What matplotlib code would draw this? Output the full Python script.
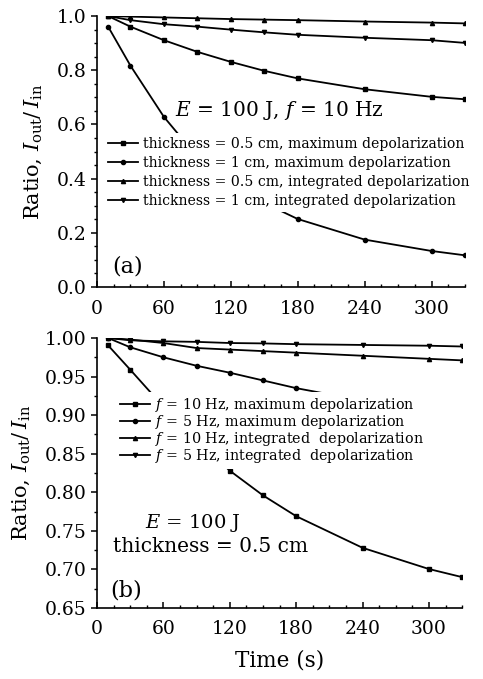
import matplotlib
matplotlib.use('Agg')
import matplotlib.pyplot as plt
from matplotlib.ticker import MultipleLocator

plt.rcParams['font.family'] = 'DejaVu Serif'
plt.rcParams['mathtext.fontset'] = 'dejavuserif'

time_s = [10, 30, 60, 90, 120, 150, 180, 240, 300, 330]

# panel (a): E = 100 J, f = 10 Hz
a_labels = ['thickness = 0.5 cm, maximum depolarization',
            'thickness = 1 cm, maximum depolarization',
            'thickness = 0.5 cm, integrated depolarization',
            'thickness = 1 cm, integrated depolarization']
a_max_05 = [1.0, 0.961, 0.911, 0.868, 0.831, 0.798, 0.770, 0.730, 0.702, 0.693]
a_max_1 = [0.961, 0.817, 0.628, 0.48, 0.38, 0.31, 0.251, 0.175, 0.133, 0.117]
a_int_05 = [1.0, 0.998, 0.995, 0.992, 0.989, 0.987, 0.985, 0.980, 0.976, 0.973]
a_int_1 = [1.0, 0.985, 0.970, 0.961, 0.950, 0.940, 0.931, 0.920, 0.911, 0.901]

# panel (b): E = 100 J, thickness = 0.5 cm
b_labels = [r'$f$ = 10 Hz, maximum depolarization',
            r'$f$ = 5 Hz, maximum depolarization',
            r'$f$ = 10 Hz, integrated  depolarization',
            r'$f$ = 5 Hz, integrated  depolarization']
b_max_10 = [0.9905, 0.959, 0.911, 0.868, 0.828, 0.796, 0.769, 0.728, 0.7005, 0.690]
b_max_5 = [1.0, 0.988, 0.975, 0.964, 0.955, 0.945, 0.935, 0.919, 0.907, 0.901]
b_int_10 = [1.0, 0.998, 0.9935, 0.987, 0.985, 0.983, 0.981, 0.977, 0.973, 0.971]
b_int_5 = [1.0, 0.997, 0.9957, 0.995, 0.9935, 0.993, 0.992, 0.991, 0.990, 0.989]

markers = ['s', 'o', '^', 'v']


def style_axes(ax, ymin, ymax, ymajor, yminor, yfmt):
    ax.spines['top'].set_visible(False)
    ax.spines['right'].set_visible(False)
    for s in ('left', 'bottom'):
        ax.spines[s].set_linewidth(1.2)
    ax.set_xlim(0, 330)
    ax.set_ylim(ymin, ymax)
    ax.xaxis.set_major_locator(MultipleLocator(60))
    ax.xaxis.set_minor_locator(MultipleLocator(15))
    ax.yaxis.set_major_locator(MultipleLocator(ymajor))
    ax.yaxis.set_minor_locator(MultipleLocator(yminor))
    ax.yaxis.set_major_formatter(yfmt)
    ax.tick_params(axis='x', which='both', direction='in', labelsize=13.5, pad=9)
    ax.tick_params(axis='y', which='both', direction='out', labelsize=13.5, pad=3)
    ax.tick_params(which='major', length=4.5, width=1.1)
    ax.tick_params(which='minor', length=2.5, width=1.0)
    ax.set_ylabel(r'Ratio, $I_{\rm out}/\,I_{\rm in}$', fontsize=15, labelpad=9)


fig = plt.figure(figsize=(4.83, 6.79), dpi=100)
ax1 = fig.add_axes([0.2008, 0.5773, 0.762, 0.399])
ax2 = fig.add_axes([0.2008, 0.1046, 0.756, 0.3976])

for ys, m, lab in zip([a_max_05, a_max_1, a_int_05, a_int_1], markers, a_labels):
    ax1.plot(time_s, ys, color='black', lw=1.3, marker=m, ms=3, label=lab)
style_axes(ax1, 0.0, 1.0, 0.2, 0.05, '{x:.1f}')
ax1.legend(loc='lower left', bbox_to_anchor=(0.019, 0.277), borderaxespad=0,
           fontsize=10.1, frameon=True, framealpha=1, edgecolor='none',
           facecolor='white', fancybox=False, handlelength=2.1,
           handletextpad=0.4, labelspacing=0.35, borderpad=0.3)
ax1.text(70, 0.653, r'$E$ = 100 J, $f$ = 10 Hz', fontsize=14.5, ha='left', va='center')
ax1.text(13.4, 0.074, '(a)', fontsize=16, ha='left', va='center')

for ys, m, lab in zip([b_max_10, b_max_5, b_int_10, b_int_5], markers, b_labels):
    ax2.plot(time_s, ys, color='black', lw=1.3, marker=m, ms=3, label=lab)
style_axes(ax2, 0.65, 1.0, 0.05, 0.025, '{x:.2f}')
ax2.legend(loc='upper left', bbox_to_anchor=(0.052, 0.80, 0.97, 0), mode='expand',
           borderaxespad=0, fontsize=10.3, frameon=True, framealpha=1,
           edgecolor='none', facecolor='white', fancybox=False,
           handlelength=2.1, handletextpad=0.4, labelspacing=-0.06, borderpad=0.25)
ax2.text(43, 0.760, r'$E$ = 100 J', fontsize=14, ha='left', va='center')
ax2.text(14.4, 0.7295, 'thickness = 0.5 cm', fontsize=14.5, ha='left', va='center')
ax2.text(11.6, 0.673, '(b)', fontsize=16, ha='left', va='center')
ax2.set_xlabel('Time (s)', fontsize=15.5, labelpad=8)

fig.savefig('out.png', dpi=100)
